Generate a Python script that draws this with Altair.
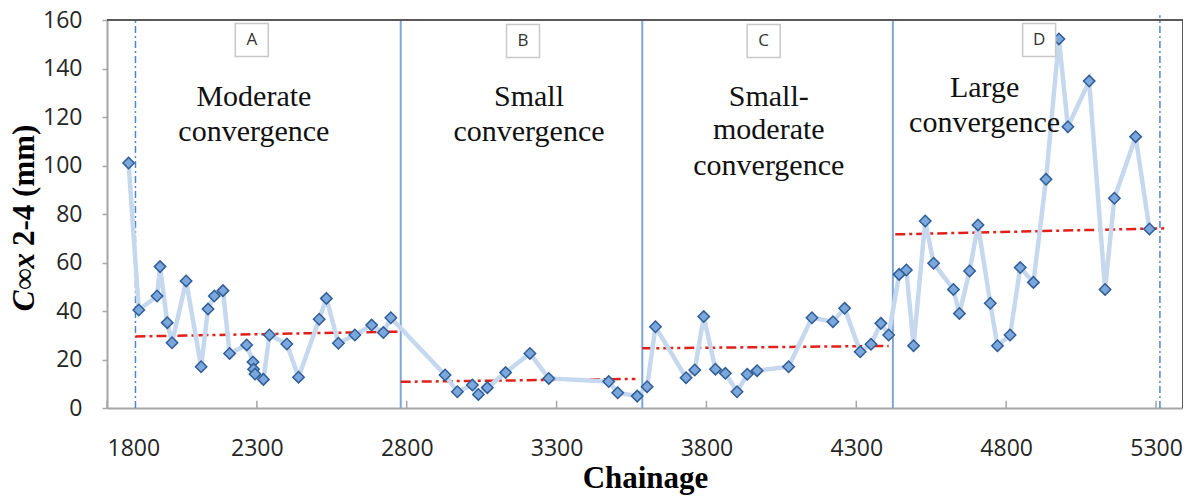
import altair as alt
import pandas as pd

# ---- data ----
chainage = [1872, 1906, 1967, 1977, 2001, 2017, 2064, 2114, 2137, 2158, 2187, 2209, 2266, 2287, 2289, 2294,
            2322, 2342, 2400, 2439, 2508, 2532, 2572, 2627, 2683, 2722, 2747,
            2928, 2969, 3019, 3039, 3069, 3130, 3211, 3274, 3474, 3504, 3569,
            3602, 3630, 3732, 3761, 3791, 3830, 3863, 3902, 3936, 3969, 4074, 4152, 4222, 4261, 4313, 4349,
            4382, 4408,
            4443, 4467, 4491, 4530, 4558, 4624, 4644, 4678, 4706, 4747, 4771, 4813, 4847, 4891, 4933, 4976,
            5006, 5077, 5130, 5161, 5232, 5278]
convergence = [101.0, 40.4, 46.2, 58.3, 35.2, 26.9, 52.4, 17.0, 40.8, 46.2, 48.4, 22.5, 26.0, 19.0, 16.0, 14.0,
               11.8, 30.1, 26.4, 12.7, 36.6, 45.2, 26.7, 30.1, 34.2, 31.1, 37.2,
               13.6, 6.7, 9.5, 5.6, 8.4, 14.6, 22.5, 12.2, 10.9, 6.3, 4.9,
               8.8, 33.5, 12.5, 15.7, 37.7, 16.0, 14.3, 6.7, 13.9, 15.4, 17.0, 37.2, 35.6, 41.1, 23.2, 26.3,
               34.9, 30.1,
               55.1, 56.9, 25.7, 77.1, 59.7, 48.9, 39.0, 56.5, 75.5, 43.2, 25.7, 30.1, 57.9, 51.8, 94.3, 152.2,
               116.0, 134.8, 48.9, 86.5, 111.9, 73.8]

zone_bounds = [2780, 3586, 4422]
edge_lines = [1895, 5313]
edge_tops = [160, 162]

trend_x1 = [1895, 2780, 3586, 4430]
trend_x2 = [2775, 3563, 4408, 5330]
trend_y1 = [29.5, 10.8, 24.6, 71.6]
trend_y2 = [31.5, 12.0, 25.6, 74.1]

zone_letters = ["A", "B", "C", "D"]
zone_letter_x = [2283, 3188, 3991, 4910]
zone_letter_y = [151.8, 151.3, 151.3, 151.8]

ann_text = ["Moderate", "convergence", "Small", "convergence", "Small-", "moderate", "convergence",
            "Large", "convergence"]
ann_x = [2290, 2290, 3208, 3208, 4008, 4008, 4008, 4728, 4728]
ann_y = [124.5, 110.1, 124.5, 110.1, 124.5, 110.8, 96.1, 128.2, 113.8]

x_ticks = [1800, 2300, 2800, 3300, 3800, 4300, 4800, 5300]
y_ticks = [0, 20, 40, 60, 80, 100, 120, 140, 160]

X_DOMAIN = [1800, 5390]
Y_DOMAIN = [0, 160]

W, H = 1076, 388
SERIF = "Liberation Serif"
SANS = "Open Sans"

pts = pd.DataFrame({"chainage": chainage, "conv": convergence})
bounds = pd.DataFrame({"x": zone_bounds, "y0": [0] * len(zone_bounds), "y1": [160] * len(zone_bounds)})
edges = pd.DataFrame({"x": edge_lines, "y0": [0, 0], "top": edge_tops})
trend = pd.DataFrame({"x1": trend_x1, "x2": trend_x2, "y1": trend_y1, "y2": trend_y2})
letters = pd.DataFrame({"t": zone_letters, "x": zone_letter_x, "y": zone_letter_y})
ann = pd.DataFrame({"t": ann_text, "x": ann_x, "y": ann_y})
ticks = pd.DataFrame({"x": x_ticks, "y0": [0] * len(x_ticks), "y1": [3] * len(x_ticks)})
frame = pd.DataFrame({"x1": [X_DOMAIN[0], X_DOMAIN[1]], "x2": [X_DOMAIN[1], X_DOMAIN[1]],
                      "y1": [160, 0], "y2": [160, 160]})
one = pd.DataFrame({"a": [0]})

xs = alt.Scale(domain=X_DOMAIN, nice=False, zero=False)
ys = alt.Scale(domain=Y_DOMAIN, nice=False)

x_axis = alt.Axis(values=x_ticks, format="d", grid=False, tickSize=0, labelPadding=29,
                  labelFont=SANS, labelFontSize=23, labelColor="#262626",
                  domainColor="#a6a6a6", domainWidth=2,
                  title="Chainage", titleFont=SERIF, titleFontSize=31, titleFontWeight="bold",
                  titleColor="#000000", titleBaseline="alphabetic", titleY=79)
y_axis = alt.Axis(values=y_ticks, grid=False, tickSize=5, tickColor="#a6a6a6", tickWidth=1.5,
                  labelPadding=20, labelFont=SANS, labelFontSize=23, labelColor="#262626",
                  domainColor="#a6a6a6", domainWidth=2, title=None)

base_x = alt.X("chainage:Q", scale=xs, axis=x_axis)
base_y = alt.Y("conv:Q", scale=ys, axis=y_axis)

line = alt.Chart(pts).mark_line(color="#c5d8ee", strokeWidth=4.5).encode(x=base_x, y=base_y, order="chainage:Q")
points = alt.Chart(pts).mark_point(shape="diamond", size=130, fill="#7ba7dc", fillOpacity=1,
                                   stroke="#2f5d96", strokeWidth=1.5, opacity=1).encode(x=base_x, y=base_y)

bound_rules = alt.Chart(bounds).mark_rule(color="#7ea6da", strokeWidth=2).encode(
    x=alt.X("x:Q", scale=xs), y=alt.Y("y0:Q", scale=ys), y2="y1:Q")
edge_rules = alt.Chart(edges).mark_rule(color="#4f86cf", strokeWidth=1.5, strokeDash=[7, 3, 2, 3]).encode(
    x=alt.X("x:Q", scale=xs), y=alt.Y("y0:Q", scale=ys), y2="top:Q")
trend_rules = alt.Chart(trend).mark_rule(color="#e0201b", strokeWidth=2.5, strokeDash=[10, 4, 3, 4]).encode(
    x=alt.X("x1:Q", scale=xs), x2="x2:Q", y=alt.Y("y1:Q", scale=ys), y2="y2:Q")
x_tick_rules = alt.Chart(ticks).mark_rule(color="#a6a6a6", strokeWidth=1.5).encode(
    x=alt.X("x:Q", scale=xs), y=alt.Y("y0:Q", scale=ys), y2="y1:Q")
frame_rules = alt.Chart(frame).mark_rule(color="#595959", strokeWidth=2).encode(
    x=alt.X("x1:Q", scale=xs), x2="x2:Q", y=alt.Y("y1:Q", scale=ys), y2="y2:Q")

letter_boxes = alt.Chart(letters).mark_square(size=33 * 33, fill="white", fillOpacity=1,
                                              stroke="#c8c8c8", strokeWidth=1.5, opacity=1).encode(
    x=alt.X("x:Q", scale=xs), y=alt.Y("y:Q", scale=ys))
letter_text = alt.Chart(letters).mark_text(font=SANS, fontSize=17, color="#333333",
                                           baseline="middle", align="center").encode(
    x=alt.X("x:Q", scale=xs), y=alt.Y("y:Q", scale=ys), text="t:N")

ann_text_layer = alt.Chart(ann).mark_text(font=SERIF, fontSize=30, color="#111111",
                                          baseline="alphabetic", align="center").encode(
    x=alt.X("x:Q", scale=xs), y=alt.Y("y:Q", scale=ys), text="t:N")

ytitle_a = alt.Chart(one).mark_text(text="C\u221ex", font=SERIF, fontSize=31, fontWeight="bold",
                                    fontStyle="italic", angle=270, align="right", baseline="middle",
                                    color="#000000").encode(x=alt.value(-82), y=alt.value(233))
ytitle_b = alt.Chart(one).mark_text(text="2-4 (mm)", font=SERIF, fontSize=31, fontWeight="bold",
                                    angle=270, align="left", baseline="middle",
                                    color="#000000").encode(x=alt.value(-82), y=alt.value(226))

chart = alt.layer(
    bound_rules, edge_rules, trend_rules, line, points, x_tick_rules,
    letter_boxes, letter_text, ann_text_layer, frame_rules, ytitle_a, ytitle_b
).properties(
    width=W, height=H,
    padding={"left": 99, "top": 12, "right": 0, "bottom": 88},
    autosize=alt.AutoSizeParams(type="none"),
).configure_view(strokeWidth=0)

chart.save("out.html", embed_options={"renderer": "svg", "actions": False})
